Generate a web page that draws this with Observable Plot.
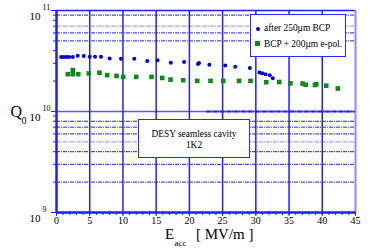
<!DOCTYPE html>
<html><head><meta charset="utf-8">
<script src="https://cdn.jsdelivr.net/npm/d3@7"></script>
<script src="https://cdn.jsdelivr.net/npm/@observablehq/plot@0.6"></script>
<style>
body{margin:0;background:#fff;}
#wrap{position:relative;width:382px;height:250px;font-family:"Liberation Serif",serif;color:#000;}
.box{position:absolute;background:#fff;border:1px solid #2a2aff;box-sizing:border-box;}
.lt{position:absolute;font-size:9.4px;line-height:10px;white-space:nowrap;}
</style></head><body><div id="wrap"></div>
<script>
// Series 1: after 250µm BCP (E in MV/m, Q0 in units of 1e10)
const E_BCP = [0.7,1.1,1.5,1.9,2.45,3.2,4.1,5.0,5.8,6.7,8.0,9.7,11.7,13.65,15.2,17.2,19.2,21.3,21.45,23.0,25.4,26.9,29.1,30.55,30.95,31.45,32.1,32.55];
const Q_BCP = [3.46,3.46,3.46,3.46,3.46,3.57,3.55,3.49,3.49,3.49,3.35,3.33,3.33,3.16,3.21,3.04,3.09,2.95,3.02,2.90,2.86,2.77,2.69,2.43,2.39,2.34,2.29,2.14];
// Series 2: BCP + 200µm e-pol.
const E_EP = [1.7,2.45,2.45,3.27,4.86,6.47,7.63,9.03,10.04,12.0,14.3,15.9,17.16,19.07,21.18,23.18,25.1,27.47,29.2,31.56,33.52,35.2,37.03,37.5,38.9,39.1,40.6,42.34];
const Q_EP = [2.34,2.57,2.34,2.34,2.38,2.42,2.29,2.25,2.20,2.20,2.20,2.15,2.07,2.04,2.01,2.01,2.01,2.01,2.01,1.95,1.96,1.90,1.89,1.84,1.83,1.86,1.80,1.69];

const seriesNames = ["after 250µm BCP", "BCP + 200µm e-pol."];
const xTickLabels = [0,5,10,15,20,25,30,35,40,45];
const xMinorTicks = d3.range(0, 46, 1);
const xGrid = [5,10,15,20,25,30,35,40];
const yExponents = [9,10,11];
const yMinorTicks = [2e9,3e9,4e9,5e9,6e9,7e9,8e9,9e9,2e10,3e10,4e10,5e10,6e10,7e10,8e10,9e10];
const yGridDashed = [9e10,6e10,5e10,8e9,7e9,6e9,4e9,3e9,2e9];
const yGridLight = [7e10,5e9];
const yHeavySegment = [{x1: 22.6, x2: 45, y: 1e10}];
const annotationLines = ["DESY seamless cavity", "1K2"];
const xLabelMain = "E", xLabelSub = "acc", xLabelUnit = "[ MV/m ]";
const yLabelMain = "Q", yLabelSub = "0";

const bcp = E_BCP.map((e, i) => ({E: e, Q: Q_BCP[i] * 1e10}));
const ep = E_EP.map((e, i) => ({E: e, Q: Q_EP[i] * 1e10}));

const BLUE = "#1f1fff", BLUE_L = "#8a8aff", DOT_BLUE = "#0000e6", GREEN = "#0e8a1a";
const dash = "4,1,1,1";

const chart = Plot.plot({
  width: 382, height: 250,
  marginLeft: 56, marginRight: 27, marginTop: 10, marginBottom: 38,
  x: {domain: [0, 45], label: null},
  y: {type: "log", domain: [1e9, 1e11], label: null},
  style: {fontFamily: "Liberation Serif", background: "white", overflow: "visible"},
  marks: [
    Plot.ruleY(yGridDashed, {stroke: BLUE, strokeWidth: 1, strokeDasharray: dash}),
    Plot.ruleY(yGridLight, {stroke: BLUE_L, strokeWidth: 1, strokeDasharray: dash}),
    Plot.ruleY([1e10], {stroke: "#5a5aff", strokeWidth: 1.5}),
    Plot.ruleY(yHeavySegment, {x1: "x1", x2: "x2", y: "y", stroke: BLUE, strokeWidth: 2, strokeDasharray: dash}),
    Plot.ruleX(xGrid, {stroke: BLUE, strokeWidth: 1.5}),
    Plot.ruleY([1e11], {stroke: BLUE, strokeWidth: 1.3}),
    Plot.ruleX([45], {stroke: BLUE_L, strokeWidth: 2}),
    Plot.ruleX([0], {stroke: BLUE, strokeWidth: 2.5}),
    Plot.ruleY([1e9], {stroke: BLUE, strokeWidth: 2.5}),
    Plot.axisX(xMinorTicks, {tickSize: 3, tickFormat: () => "", stroke: BLUE, label: null}),
    Plot.axisX(xTickLabels, {tickSize: 4, tickFormat: () => "", stroke: BLUE, label: null}),
    Plot.axisY(yMinorTicks, {tickSize: 3, tickFormat: () => "", stroke: BLUE, label: null}),
    Plot.axisY(yExponents.map(e => 10 ** e), {tickSize: 5, tickFormat: () => "", stroke: BLUE, label: null}),
    Plot.text(xTickLabels, {x: d => d, frameAnchor: "bottom", dy: 11, text: d => String(d), fontSize: 10, fill: "black"}),
    Plot.text(yExponents, {y: e => 10 ** e, frameAnchor: "left", dx: -16, dy: 6, text: () => "10", textAnchor: "end", fontSize: 11, fill: "black"}),
    Plot.text(yExponents, {y: e => 10 ** e, frameAnchor: "left", dx: -14, dy: -3, text: e => String(e), textAnchor: "start", fontSize: 8, fill: "black"}),
    Plot.text([yLabelMain], {frameAnchor: "left", dx: -46, dy: 0, text: d => d, textAnchor: "start", fontSize: 16, fill: "black"}),
    Plot.text([yLabelSub], {frameAnchor: "left", dx: -35, dy: 9, text: d => d, textAnchor: "start", fontSize: 10, fill: "black"}),
    Plot.text([xLabelMain], {frameAnchor: "bottom", dx: -41, dy: 26, text: d => d, textAnchor: "start", fontSize: 15, fill: "black"}),
    Plot.text([xLabelSub], {frameAnchor: "bottom", dx: -31.5, dy: 33, text: d => d, textAnchor: "start", fontSize: 9, fill: "black"}),
    Plot.text([xLabelUnit], {frameAnchor: "bottom", dx: -10, dy: 26, text: d => d, textAnchor: "start", fontSize: 15, fill: "black"}),
    Plot.dot(bcp, {x: "E", y: "Q", r: 2, fill: DOT_BLUE, stroke: "none"}),
    Plot.dot(ep, {x: "E", y: "Q", r: 2.6, symbol: "square", fill: GREEN, stroke: "none"})
  ]
});

const wrap = document.getElementById("wrap");
wrap.appendChild(chart);

// legend box
const leg = document.createElement("div");
leg.className = "box";
Object.assign(leg.style, {left: "250px", top: "14px", width: "96px", height: "43px"});
leg.innerHTML =
  `<div style="position:absolute;left:5px;top:12px;width:4px;height:4px;border-radius:50%;background:${DOT_BLUE}"></div>` +
  `<div class="lt" style="left:13px;top:8px">${seriesNames[0]}</div>` +
  `<div style="position:absolute;left:4px;top:26px;width:5px;height:5px;background:${GREEN}"></div>` +
  `<div class="lt" style="left:13px;top:24px">${seriesNames[1]}</div>`;
wrap.appendChild(leg);

// annotation box
const ann = document.createElement("div");
ann.className = "box";
Object.assign(ann.style, {left: "138px", top: "119px", width: "112px", height: "39px", textAlign: "center", fontSize: "9.4px", lineHeight: "11px", paddingTop: "9px"});
ann.innerHTML = annotationLines.join("<br>");
wrap.appendChild(ann);
</script></body></html>
